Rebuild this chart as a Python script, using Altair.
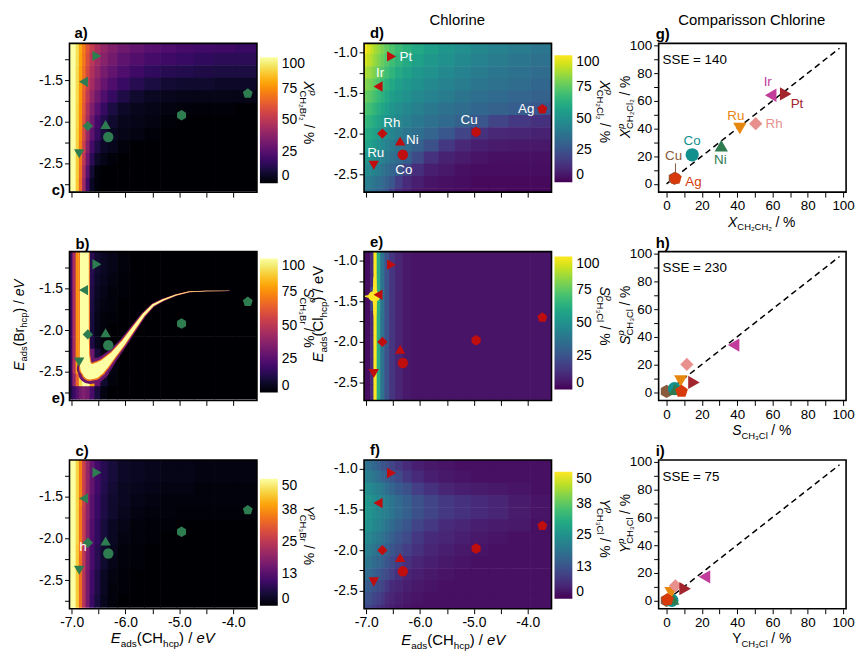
import altair as alt
import pandas as pd

FONT = "Liberation Sans"
W, H = 189, 150

# ---------------- data ----------------
METALS = ["Cu", "Co", "Ni", "Ru", "Rh", "Ir", "Pt", "Ag"]
E_CH = [-4.96, -6.32, -6.37, -6.86, -6.70, -6.78, -6.53, -3.73]
E_BR = [-1.92, -2.18, -2.03, -2.38, -2.05, -1.52, -1.21, -1.66]
E_CL = [-1.98, -2.26, -2.09, -2.39, -2.00, -1.42, -1.05, -1.70]

X_EXP = [4.5, 14.5, 31.0, 41.5, 50.5, 59.0, 67.5, 5.0]
X_PRED = [4.0, 21.0, 27.5, 40.0, 43.5, 64.0, 65.0, 4.0]
S_EXP = [0.0, 4.5, 5.0, 8.0, 11.5, 38.0, 15.5, 8.5]
S_PRED = [0.5, 2.5, 2.0, 8.0, 20.0, 34.0, 7.0, 0.5]
Y_EXP = [0.0, 3.0, 3.5, 2.5, 5.0, 21.5, 10.5, 0.5]
Y_PRED = [0.0, 0.0, 1.0, 5.5, 10.5, 17.0, 8.5, 0.5]
SSE = [140, 230, 75]
PARITY = [0, 98]

# heat-map grid (cell centres)
HEAT_X = [-7.01, -6.95, -6.89, -6.83, -6.77, -6.70, -6.62, -6.52, -6.40,
          -6.25, -6.05, -5.80, -5.50, -5.20, -4.90, -4.55, -4.15, -3.75]
BR_Y = [-1.10, -1.25, -1.40, -1.55, -1.70, -1.85, -2.00, -2.15, -2.30, -2.45, -2.60, -2.75]
CL_Y = [-0.95, -1.10, -1.25, -1.40, -1.55, -1.70, -1.85, -2.00, -2.15, -2.30, -2.45, -2.60, -2.75]

# a) X^p CH2Br2 (%)
GRID_A = [
    [100, 100, 92, 81, 71, 61, 53, 46, 40, 35, 31, 28, 25, 23, 21, 20, 19, 18],
    [100, 100, 92, 80, 70, 59, 50, 43, 37, 32, 27, 24, 21, 19, 18, 16, 15, 15],
    [100, 100, 91, 79, 68, 57, 47, 40, 33, 28, 23, 19, 16, 14, 13, 12, 11, 11],
    [100, 100, 91, 78, 66, 54, 44, 36, 29, 23, 18, 14, 11, 9, 8, 8, 7, 7],
    [100, 100, 91, 77, 64, 51, 40, 31, 23, 17, 12, 8, 6, 5, 4, 4, 4, 4],
    [100, 100, 90, 76, 62, 47, 35, 25, 17, 11, 7, 5, 4, 3, 2, 1, 1, 0],
    [100, 100, 90, 75, 60, 44, 31, 20, 13, 8, 5, 4, 3, 1, 0, 0, 0, 0],
    [100, 100, 89, 74, 58, 41, 27, 17, 10, 6, 4, 3, 1, 0, 0, 0, 0, 0],
    [100, 100, 89, 72, 54, 36, 21, 12, 7, 5, 2, 0, 0, 0, 0, 0, 0, 0],
    [100, 100, 88, 70, 50, 31, 15, 7, 4, 1, 0, 0, 0, 0, 0, 0, 0, 0],
    [100, 100, 88, 68, 46, 25, 9, 2, 0, 0, 0, 0, 0, 0, 0, 0, 0, 0],
    [100, 100, 87, 66, 42, 20, 6, 1, 0, 0, 0, 0, 0, 0, 0, 0, 0, 0],
]
# b) S^p CH3Br (%)
GRID_B = [
    [18, 45, 75, 100, 100, 100, 14, 8, 6, 4, 2, 0, 0, 0, 0, 0, 0, 0],
    [18, 45, 75, 100, 100, 100, 14, 8, 6, 4, 2, 0, 0, 0, 0, 0, 0, 0],
    [18, 45, 75, 100, 100, 100, 13, 7, 5, 3, 1, 0, 0, 0, 0, 0, 0, 0],
    [18, 45, 75, 100, 100, 100, 12, 6, 4, 2, 1, 0, 0, 0, 0, 0, 0, 0],
    [18, 45, 75, 100, 100, 100, 11, 5, 3, 2, 0, 0, 0, 0, 0, 0, 0, 0],
    [18, 45, 75, 100, 100, 100, 10, 4, 2, 1, 0, 0, 0, 0, 0, 0, 0, 0],
    [18, 45, 75, 100, 100, 100, 10, 4, 2, 0, 0, 0, 0, 0, 0, 0, 0, 0],
    [18, 45, 75, 100, 100, 100, 12, 5, 2, 0, 0, 0, 0, 0, 0, 0, 0, 0],
    [18, 45, 75, 100, 100, 100, 30, 10, 3, 1, 0, 0, 0, 0, 0, 0, 0, 0],
    [18, 48, 80, 100, 100, 100, 100, 40, 12, 3, 0, 0, 0, 0, 0, 0, 0, 0],
    [16, 40, 65, 90, 100, 100, 80, 30, 8, 2, 0, 0, 0, 0, 0, 0, 0, 0],
    [12, 18, 25, 32, 35, 32, 22, 10, 3, 0, 0, 0, 0, 0, 0, 0, 0, 0],
]
# c) Y^p CH3Br (%)
GRID_C = [
    [50, 50, 45, 36, 27, 20, 14, 10, 7, 5, 3.5, 3, 2.5, 2, 2, 1.5, 1.5, 1.5],
    [50, 50, 45, 36, 27, 20, 14, 10, 7, 5, 3.5, 3, 2.5, 2, 2, 1.5, 1.5, 1.5],
    [50, 50, 45, 36, 27, 20, 14, 10, 6.5, 4.5, 3, 2.5, 2, 1.5, 1.5, 1, 1, 1],
    [50, 50, 45, 36, 27, 19, 13, 9, 6, 4, 3, 2, 1.5, 1, 1, 1, 1, 1],
    [50, 50, 45, 35, 26, 19, 13, 9, 6, 4, 2.5, 1.5, 1, 1, 0.5, 0.5, 0.5, 0.5],
    [50, 50, 45, 35, 26, 18, 12, 8, 5, 3, 2, 1, 0.5, 0.5, 0, 0, 0, 0],
    [50, 50, 45, 35, 26, 18, 12, 8, 5, 3, 1.5, 1, 0.5, 0, 0, 0, 0, 0],
    [50, 50, 44, 35, 25, 17, 11, 7, 4, 2.5, 1, 0.5, 0, 0, 0, 0, 0, 0],
    [50, 50, 44, 34, 25, 17, 11, 7, 4, 2, 1, 0.5, 0, 0, 0, 0, 0, 0],
    [50, 50, 44, 34, 24, 16, 10, 6, 3, 1.5, 0.5, 0, 0, 0, 0, 0, 0, 0],
    [50, 50, 44, 34, 24, 16, 10, 6, 3, 1, 0.5, 0, 0, 0, 0, 0, 0, 0],
    [50, 50, 44, 34, 24, 16, 9, 5, 2.5, 1, 0, 0, 0, 0, 0, 0, 0, 0],
]
# d) X^p CH2Cl2 (%)
GRID_D = [
    [99, 95, 91, 87, 84, 80, 76, 72, 68, 64, 60, 56, 52, 49, 46, 43, 41, 39],
    [94, 91, 88, 84, 81, 77, 73, 69, 65, 61, 57, 53, 50, 47, 44, 41, 39, 37],
    [88, 86, 83, 80, 77, 73, 69, 65, 61, 57, 53, 50, 47, 44, 41, 39, 37, 35],
    [82, 80, 78, 75, 72, 68, 64, 60, 56, 53, 50, 47, 44, 41, 39, 37, 35, 33],
    [77, 75, 73, 70, 67, 64, 60, 56, 53, 50, 47, 44, 41, 38, 36, 34, 32, 31],
    [72, 70, 68, 65, 62, 59, 56, 52, 49, 46, 43, 40, 37, 35, 33, 31, 29, 26],
    [67, 65, 63, 61, 58, 55, 52, 49, 46, 43, 40, 37, 34, 31, 27, 20, 16, 14],
    [62, 61, 59, 57, 54, 51, 48, 45, 42, 39, 36, 32, 27, 20, 14, 11, 10, 9],
    [58, 57, 55, 53, 50, 47, 44, 41, 38, 35, 31, 24, 16, 11, 8, 7, 6, 6],
    [53, 52, 50, 48, 46, 43, 40, 37, 34, 30, 22, 14, 9, 7, 5, 4, 4, 4],
    [48, 47, 45, 43, 41, 38, 35, 32, 28, 20, 13, 8, 6, 4, 3, 3, 3, 3],
    [43, 42, 40, 38, 36, 34, 31, 27, 18, 12, 8, 5, 4, 3, 2, 2, 2, 2],
    [39, 38, 36, 34, 32, 30, 26, 18, 12, 8, 5, 4, 3, 2, 2, 2, 1, 1],
]
# e) S^p CH3Cl (%)
GRID_E = [
    [3, 3, 12, 100, 62, 38, 25, 15, 10, 6, 5, 5, 5, 5, 5, 5, 5, 5],
    [3, 3, 12, 100, 62, 38, 25, 15, 10, 6, 5, 5, 5, 5, 5, 5, 5, 5],
    [3, 3, 12, 100, 62, 38, 25, 15, 10, 6, 5, 5, 5, 5, 5, 5, 5, 5],
    [3, 3, 20, 100, 64, 39, 25, 15, 10, 6, 5, 5, 5, 5, 5, 5, 5, 5],
    [3, 3, 20, 100, 64, 39, 25, 15, 10, 6, 5, 5, 5, 5, 5, 5, 5, 5],
    [3, 3, 12, 100, 62, 38, 25, 15, 10, 6, 5, 5, 5, 5, 5, 5, 5, 5],
    [3, 3, 12, 100, 62, 38, 25, 15, 10, 6, 5, 5, 5, 5, 5, 5, 5, 5],
    [3, 3, 12, 100, 62, 38, 25, 15, 10, 6, 5, 5, 5, 5, 5, 5, 5, 5],
    [3, 3, 12, 100, 62, 38, 25, 15, 10, 6, 5, 5, 5, 5, 5, 5, 5, 5],
    [3, 3, 12, 100, 62, 38, 25, 15, 10, 6, 5, 5, 5, 5, 5, 5, 5, 5],
    [3, 3, 12, 100, 62, 38, 25, 15, 10, 6, 5, 5, 5, 5, 5, 5, 5, 5],
    [3, 3, 12, 100, 62, 38, 25, 15, 10, 6, 5, 5, 5, 5, 5, 5, 5, 5],
    [3, 3, 12, 100, 62, 38, 25, 15, 10, 6, 5, 5, 5, 5, 5, 5, 5, 5],
]
# f) Y^p CH3Cl (%)
GRID_F = [
    [19, 18, 17, 16, 15, 13, 12, 10, 8, 6, 4, 3, 2.5, 2, 2, 2, 2, 2],
    [22, 21, 20, 19, 18, 16, 15, 13, 11, 8, 6, 4, 3, 2.5, 2, 2, 2, 2],
    [25, 24, 23, 22, 21, 20, 18, 16, 14, 12, 9, 7, 5, 4, 3.5, 3, 2.5, 2],
    [27, 26, 25, 24, 23, 22, 21, 19, 17, 15, 12, 10, 8, 7, 6, 5, 3.5, 2.5],
    [27, 26, 25, 24, 23, 22, 21, 19, 17, 15, 12, 10, 8, 7, 6, 5, 3.5, 2.5],
    [26, 25, 24, 23, 22, 21, 19, 17, 15, 13, 10, 8, 6, 5, 4, 3.5, 3, 2],
    [24, 23, 22, 21, 20, 19, 17, 15, 13, 11, 8, 6, 5, 4, 3, 2.5, 2, 2],
    [22, 21, 20, 19, 18, 17, 15, 13, 11, 9, 7, 5, 4, 3, 2.5, 2, 2, 2],
    [20, 19, 18, 17, 16, 15, 13, 11, 9, 7, 5, 4, 3, 2.5, 2, 2, 2, 2],
    [18, 17, 16, 15, 14, 12, 11, 9, 7, 5, 4, 3, 2.5, 2, 2, 2, 2, 2],
    [15, 14, 13, 12, 11, 10, 8, 6, 5, 4, 3, 2.5, 2, 2, 2, 2, 2, 2],
    [13, 12, 11, 10, 9, 8, 6, 5, 4, 3, 2.5, 2, 2, 2, 2, 2, 2, 2],
    [11, 10, 9, 8, 7, 6, 5, 4, 3, 2.5, 2, 2, 2, 2, 2, 2, 2, 2],
]

# b) bright selectivity ridge (U-shaped band)
RIDGE_X = [-6.764, -6.764, -6.764, -6.762, -6.75, -6.72, -6.66, -6.58, -6.50, -6.40,
           -6.22, -6.04, -5.85, -5.67, -5.49, -5.31, -5.07, -4.82, -4.50, -4.07]
RIDGE_Y = [-1.00, -1.60, -2.10, -2.30, -2.40, -2.46, -2.50, -2.49, -2.46, -2.41,
           -2.29, -2.15, -1.98, -1.82, -1.70, -1.64, -1.58, -1.54, -1.53, -1.53]
RIDGE_CORE = [9, 9, 9, 9.5, 11, 13, 15, 15, 13, 10, 6, 4.5, 3.5, 2.6, 2.0, 1.5, 1.0, 0.6, 0.4, 0.2]
RIDGE_GLOW = [11, 11, 11, 11.5, 13, 15.5, 18, 18, 16, 12.5, 8, 6, 4.6, 3.5, 2.7, 2.0, 1.4, 0.9, 0.5, 0.3]
RIDGE_HALO = [10, 10, 10, 11, 15, 20, 24, 25, 23, 18, 12, 9, 7, 5.2, 4.0, 3.0, 2.0, 1.3, 0.8, 0.4]
RIDGE_LEVELS = [30, 70, 100]

# e) yellow cusp of the selectivity map
SPIKE_X = [-7.04, -7.00, -6.96, -6.92, -6.895, -6.87, -6.855]
SPIKE_Y = [-1.44, -1.44, -1.44, -1.44, -1.44, -1.44, -1.44]
SPIKE_W = [1, 1.8, 2.8, 4.5, 7, 10, 12]
BULGE_X = [-6.84, -6.84, -6.84, -6.84, -6.84, -6.84, -6.84]
BULGE_Y = [-1.22, -1.32, -1.39, -1.44, -1.49, -1.56, -1.66]
BULGE_W = [3, 3.5, 4.5, 6, 4.5, 3.5, 3]

# ---------------- styling ----------------
HEXA = "M0,-1L0.866,-0.5L0.866,0.5L0,1L-0.866,0.5L-0.866,-0.5Z"
PENTA = "M0,-1L0.951,-0.309L0.588,0.809L-0.588,0.809L-0.951,-0.309Z"
SHAPES = [HEXA, "circle", "triangle-up", "triangle-down", "diamond",
          "triangle-left", "triangle-right", PENTA]
RIGHT_COLORS = ["#8a5a3c", "#12908e", "#2e7b50", "#e8870e", "#e8908e",
                "#c23d9b", "#a3262e", "#d7390b"]
GREEN = "#2e7d50"
RED = "#c00d0d"

XDOM = [-7.04, -3.56]
BR_DOM = [-2.84, -1.06]
CL_DOM = [-2.72, -0.89]
XTICKS = [-7.0, -6.5, -6.0, -5.5, -5.0, -4.5, -4.0]
BR_TICKS = [-2.75, -2.5, -2.25, -2.0, -1.75, -1.5, -1.25]
CL_TICKS = [-2.5, -2.25, -2.0, -1.75, -1.5, -1.25, -1.0]

ONE = pd.DataFrame({"k": [0]})

WID = {' ': 278, '(': 333, ')': 333, '/': 278, '%': 889, '-': 333, '.': 278, '=': 584,
       'A': 667, 'B': 667, 'C': 722, 'E': 667, 'H': 722, 'S': 667, 'V': 667, 'X': 667,
       'Y': 667, 'P': 667, 'R': 722, 'I': 278, 'N': 722, 'a': 556, 'b': 556, 'c': 500,
       'd': 556, 'e': 556, 'g': 556, 'h': 556, 'i': 222, 'l': 222, 'n': 556, 'o': 556,
       'p': 556, 'r': 333, 's': 500, 't': 278, 'u': 556, 'v': 500, '₂': 370, '₃': 370}


def tw(s, size):
    return sum(WID.get(ch, 556) for ch in s) * size / 1000.0


def txt(text, x, y, size=14, angle=0, italic=False, bold=False, color="black",
        align="left"):
    kw = dict(text=text, fontSize=size, font=FONT, align=align,
              baseline="alphabetic", color=color)
    if angle:
        kw["angle"] = angle
    if italic:
        kw["fontStyle"] = "italic"
    if bold:
        kw["fontWeight"] = "bold"
    return alt.Chart(ONE).mark_text(**kw).encode(x=alt.value(x), y=alt.value(y))


DIRS = {0: ((1, 0), (0, 1)), 90: ((0, 1), (-1, 0)), 270: ((0, -1), (1, 0))}


def rich(parts, x, y, angle=0):
    d, n = DIRS[angle]
    total = sum(tw(p[0], p[1]) for p in parts if p[4])
    pos = -total / 2.0
    out = []
    for text, size, shift, italic, adv in parts:
        lead = len(text) - len(text.lstrip(" "))
        p0 = pos + tw(" " * lead, size)
        shown = text.strip(" ")
        px = x + d[0] * p0 + n[0] * shift
        py = y + d[1] * p0 + n[1] * shift
        out.append(txt(shown, px, py, size, angle, italic))
        if adv:
            pos += tw(text, size)
    return out


def sym_title(letter, sub, italic=True, sup=True, big=14, small=9.5):
    p = [(letter, big, 0, italic, True)]
    if sup:
        p.append(("p", small, -6, True, False))
    p.append((sub, small, 3.5, False, True))
    p.append((" / %", big, 0, False, True))
    return p


def eads_title(sp, big, small, ital_ev=True):
    return [("E", big, 0, True, True), ("ads", small, 3.5, False, True),
            ("(" + sp, big, 0, False, True), ("hcp", small, 3.5, False, True),
            (")", big, 0, False, True), (" /", big, 0, False, True),
            (" eV", big, 0, ital_ev, True)]


def edges(c):
    e = [c[0] - (c[1] - c[0]) / 2.0]
    for a, b in zip(c[:-1], c[1:]):
        e.append((a + b) / 2.0)
    e.append(c[-1] + (c[-1] - c[-2]) / 2.0)
    return e


def heat_frame(grid, ycent):
    xe, ye = edges(HEAT_X), edges(ycent)
    ex, ey = 0.006, 0.004   # small overlap so that no seams show between cells
    rows = []
    for r, row in enumerate(grid):
        for c, v in enumerate(row):
            rows.append(dict(x0=xe[c] - ex, x1=xe[c + 1] + ex,
                             y0=ye[r] + ey, y1=ye[r + 1] - ey, v=v))
    return pd.DataFrame(rows)


def frame_layer():
    return alt.Chart(ONE).mark_rect(fill="transparent", stroke="black", strokeWidth=1.6).encode(
        x=alt.value(0), x2=alt.value(W), y=alt.value(0), y2=alt.value(H))


def heat_panel(grid, ycent, ydom, yticks, scheme, cmax, leg_y, leg_len, bottom,
               pts_y, marker_color, extra=None, labels=None, texts=None):
    xs = alt.Scale(domain=XDOM, nice=False, zero=False)
    ys = alt.Scale(domain=ydom, nice=False, zero=False)
    cs = alt.Scale(scheme=scheme, domain=[0, cmax])
    if bottom:
        xaxis = alt.Axis(values=XTICKS, format=".1f", labelFontSize=14,
                         labelExpr="datum.value == round(datum.value) ? replace(datum.label, '\u2212', '-') : ''")
    else:
        xaxis = alt.Axis(values=XTICKS, labels=False)
    yaxis = alt.Axis(values=yticks, format=".1f", labelFontSize=14,
                     labelExpr="datum.value*2 == round(datum.value*2) ? replace(datum.label, '\u2212', '-') : ''")
    X = lambda f: alt.X(f, scale=xs, axis=xaxis, title=None)
    Y = lambda f: alt.Y(f, scale=ys, axis=yaxis, title=None)
    cvals = [0, 25, 50, 75, 100] if cmax == 100 else [0, 12.5, 25, 37.5, 50]
    legend = alt.Legend(type="gradient", orient="none", legendX=W + 3, legendY=leg_y,
                        direction="vertical", gradientLength=leg_len, gradientThickness=18,
                        values=cvals, format=".0f", labelFontSize=14, labelFont=FONT,
                        labelColor="black", labelOffset=4, padding=0, gradientStrokeWidth=0)
    layers = [alt.Chart(heat_frame(grid, ycent)).mark_rect(clip=True).encode(
        x=X("x0:Q"), x2="x1:Q", y=Y("y0:Q"), y2="y1:Q",
        color=alt.Color("v:Q", scale=cs, legend=legend, title=None))]
    for tx, ty, tw_, tv in (extra or []):
        df = pd.DataFrame({"x": tx, "y": ty, "w": tw_, "v": [tv] * len(tx),
                           "i": list(range(len(tx)))})
        layers.append(alt.Chart(df).mark_trail(clip=True).encode(
            x=X("x:Q"), y=Y("y:Q"), size=alt.Size("w:Q", scale=None),
            color=alt.Color("v:Q", scale=cs, legend=None), order=alt.Order("i:Q")))
    pts = pd.DataFrame({"metal": METALS, "ech": E_CH, "e": pts_y})
    layers.append(alt.Chart(pts).mark_point(filled=True, size=110, opacity=1, strokeWidth=0).encode(
        x=X("ech:Q"), y=Y("e:Q"),
        shape=alt.Shape("metal:N", scale=alt.Scale(domain=METALS, range=SHAPES), legend=None),
        color=alt.value(marker_color)))
    if labels:
        for m, (dx, dy, al) in labels.items():
            layers.append(alt.Chart(pts[pts.metal == m]).mark_text(
                text=m, dx=dx, dy=dy, align=al, baseline="alphabetic", fontSize=13.5,
                font=FONT, color="white").encode(x=X("ech:Q"), y=Y("e:Q")))
    layers.append(frame_layer())
    layers += texts or []
    return alt.layer(*layers).resolve_legend(color="independent").properties(width=W, height=H)


def parity_panel(exp, pred, sse, xt, yt, label, labels=None, extra=None):
    xs = alt.Scale(domain=[-4.5, 101.7], nice=False, zero=False)
    ys = alt.Scale(domain=[-6, 101.5], nice=False, zero=False)
    ax = alt.Axis(values=list(range(0, 101, 10)), labelFontSize=13.5,
                  labelExpr="datum.value % 20 == 0 ? datum.label : ''")
    X = lambda f: alt.X(f, scale=xs, axis=ax, title=None)
    Y = lambda f: alt.Y(f, scale=ys, axis=ax, title=None)
    df = pd.DataFrame({"metal": METALS, "exp": exp, "pred": pred, "o": list(range(8))})
    line = pd.DataFrame({"a": PARITY, "b": PARITY})
    layers = [
        alt.Chart(line).mark_line(color="black", strokeDash=[6, 4], strokeWidth=1.5, clip=True).encode(
            x=X("a:Q"), y=Y("b:Q")),
        alt.Chart(df).mark_point(filled=True, size=180, opacity=1, strokeWidth=0).encode(
            x=X("exp:Q"), y=Y("pred:Q"),
            shape=alt.Shape("metal:N", scale=alt.Scale(domain=METALS, range=SHAPES), legend=None),
            color=alt.Color("metal:N", scale=alt.Scale(domain=METALS, range=RIGHT_COLORS), legend=None),
            order=alt.Order("o:Q")),
    ]
    if labels:
        for m, (dx, dy, al) in labels.items():
            c = RIGHT_COLORS[METALS.index(m)]
            layers.append(alt.Chart(df[df.metal == m]).mark_text(
                text=m, dx=dx, dy=dy, align=al, baseline="alphabetic", fontSize=13.5,
                font=FONT, color=c).encode(x=X("exp:Q"), y=Y("pred:Q")))
    layers += extra or []
    layers.append(frame_layer())
    layers.append(txt("SSE = %d" % sse, 4, 21, 13.5))
    layers += rich(xt, 104, 185)
    layers += rich(yt, -29, 64, 270)
    layers.append(txt(label, -3, -4, 15, bold=True))
    return alt.layer(*layers).properties(width=W, height=H)


MID_LABELS = {"Pt": (8, 5, "left"), "Ir": (2, -10, "center"), "Rh": (1, -7, "left"),
              "Ni": (6, 3, "left"), "Ru": (2, -8, "center"), "Co": (1, 19, "center"),
              "Cu": (-7, -8, "center"), "Ag": (-8, 4, "right")}
G_LABELS = {"Ir": (-3, -9, "center"), "Pt": (5, 14, "left"), "Ru": (-4, -9, "center"),
            "Rh": (10, 4, "left"), "Co": (0, -10, "center"), "Ni": (-1, 18, "center"),
            "Cu": (-1, -18, "center"), "Ag": (10, 8, "left")}

pa = heat_panel(GRID_A, BR_Y, BR_DOM, BR_TICKS, "inferno", 100, 14, 127, False, E_BR, GREEN,
                texts=[txt("a)", 5, -5, 15, bold=True), txt("c)", -18, 153, 15, bold=True)]
                + rich(sym_title("X", "CH₂Br₂"), 236, 70, 90))
pb = heat_panel(GRID_B, BR_Y, BR_DOM, BR_TICKS, "inferno", 100, 7, 135, False, E_BR, GREEN,
                extra=[(RIDGE_X, RIDGE_Y, RIDGE_HALO, RIDGE_LEVELS[0]),
                       (RIDGE_X, RIDGE_Y, RIDGE_GLOW, RIDGE_LEVELS[1]),
                       (RIDGE_X, RIDGE_Y, RIDGE_CORE, RIDGE_LEVELS[2])],
                texts=[txt("b)", 6, -3, 15, bold=True), txt("e)", -18, 153, 15, bold=True)]
                + rich(sym_title("S", "CH₃Br"), 236, 67, 90)
                + rich(eads_title("Br", 14, 9.5), -46, 74, 270))
pc = heat_panel(GRID_C, BR_Y, BR_DOM, BR_TICKS, "inferno", 50, 19, 128, True, E_BR, GREEN,
                texts=[txt("c)", 6, -4, 15, bold=True), txt("h", 10, 92, 13, color="white")]
                + rich(sym_title("Y", "CH₃Br"), 236, 76, 90)
                + rich(eads_title("CH", 15, 10), 94, 185))
pd_ = heat_panel(GRID_D, CL_Y, CL_DOM, CL_TICKS, "viridis", 100, 12, 128, False, E_CL, RED,
                 labels=MID_LABELS,
                 texts=[txt("d)", 6, -5, 15, bold=True),
                        txt("Chlorine", 94, -19, 15, align="center")]
                 + rich(sym_title("X", "CH₂Cl₂"), 238, 69, 90))
pe = heat_panel(GRID_E, CL_Y, CL_DOM, CL_TICKS, "viridis", 100, 5, 134, False, E_CL, RED,
                extra=[(SPIKE_X, SPIKE_Y, SPIKE_W, 100), (BULGE_X, BULGE_Y, BULGE_W, 100)],
                texts=[txt("e)", 6, -5, 15, bold=True)]
                + rich(sym_title("S", "CH₃Cl"), 238, 65, 90)
                + rich(eads_title("Cl", 15, 10, False), -41, 63, 270))
pf = heat_panel(GRID_F, CL_Y, CL_DOM, CL_TICKS, "viridis", 50, 12, 128, True, E_CL, RED,
                texts=[txt("f)", 6, -5, 15, bold=True)]
                + rich(sym_title("Y", "CH₃Cl"), 238, 69, 90)
                + rich(eads_title("CH", 15, 10), 90, 187))

cu_leader = alt.Chart(ONE).mark_rule(color=RIGHT_COLORS[0], strokeWidth=1).encode(
    x=alt.value(17), y=alt.value(121), y2=alt.value(131))
pg = parity_panel(X_EXP, X_PRED, SSE[0],
                  [("X", 14, 0, True, True), ("CH₂CH₂", 9.5, 3.5, False, True), (" / %", 14, 0, False, True)],
                  sym_title("X", "CH₂Cl₂"), "g)", labels=G_LABELS,
                  extra=[cu_leader, txt("Comparisson Chlorine", 94, -19, 15, align="center")])
ph = parity_panel(S_EXP, S_PRED, SSE[1],
                  [("S", 14, 0, True, True), ("CH₃Cl", 9.5, 3.5, False, True), (" / %", 14, 0, False, True)],
                  sym_title("S", "CH₃Cl"), "h)")
pi = parity_panel(Y_EXP, Y_PRED, SSE[2],
                  [("Y", 14, 0, False, True), ("CH₃Cl", 9.5, 3.5, False, True), (" / %", 14, 0, False, True)],
                  sym_title("Y", "CH₃Cl"), "i)")

chart = alt.concat(pa, pd_, pg, pb, pe, ph, pc, pf, pi, columns=3,
                   spacing={"row": 60, "column": 108}, bounds="flush").resolve_scale(
    x="independent", y="independent", color="independent",
    shape="independent").properties(
    padding={"left": 4, "top": 1, "right": 0, "bottom": 0}).configure_view(
    stroke="transparent").configure_axis(
    domain=False, grid=False, tickColor="black", labelColor="black", labelFont=FONT,
    tickSize=5, tickWidth=1, labelPadding=2)

chart.save("out.html", embed_options={"renderer": "svg", "actions": False})
